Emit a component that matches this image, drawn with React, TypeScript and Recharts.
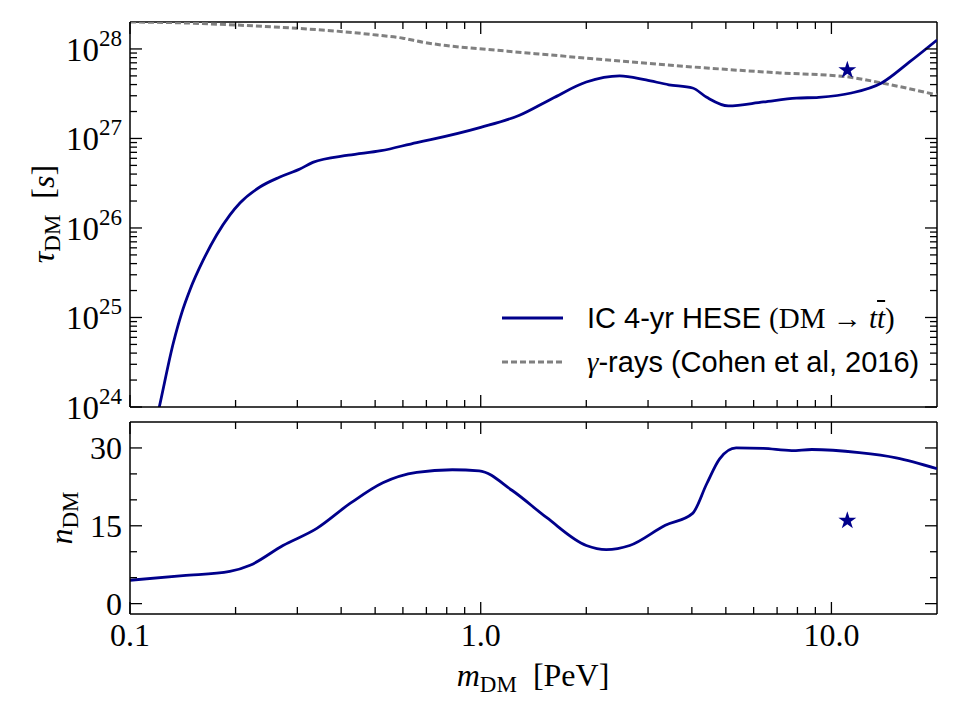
import React from 'react';
import {
  ComposedChart,
  Line,
  Scatter,
  XAxis,
  YAxis,
  ReferenceLine,
  Legend,
  Label,
  Symbols,
} from 'recharts';

// IceCube 4-yr HESE lower limit on the DM lifetime (DM -> t tbar)
const heseMass = [0.115, 0.1212, 0.1329, 0.1404, 0.1482, 0.1618, 0.1766, 0.1928, 0.2058, 0.2346, 0.2676, 0.3051, 0.332, 0.42, 0.52, 0.657, 0.72, 1.0, 1.29, 1.6, 2.0, 2.49, 2.96, 3.44, 4.02, 4.41, 5.08, 6.4, 7.95, 9.2, 11.4, 13.9, 16.7, 20];
const heseTau = [4e23, 1.0e24, 5.19e24, 1.12e25, 2.03e25, 4.39e25, 8.35e25, 1.4e26, 1.9e26, 2.87e26, 3.71e26, 4.56e26, 5.4e26, 6.5e26, 7.3e26, 9.0e26, 9.7e26, 1.33e27, 1.82e27, 2.8e27, 4.27e27, 5.0e27, 4.5e27, 3.98e27, 3.66e27, 2.88e27, 2.31e27, 2.56e27, 2.82e27, 2.88e27, 3.22e27, 4.17e27, 7.16e27, 1.26e28];

// gamma-ray bound (Cohen et al, 2016)
const gammaMass = [0.1, 0.124, 0.2013, 0.2983, 0.405, 0.5043, 0.5998, 0.6836, 0.797, 1.013, 2.0, 4.0, 7.1, 11, 13.9, 20];
const gammaTau = [2.0e28, 1.98e28, 1.85e28, 1.7e28, 1.56e28, 1.43e28, 1.32e28, 1.19e28, 1.09e28, 1.0e28, 7.9e27, 6.3e27, 5.4e27, 4.9e27, 4.17e27, 3.06e27];

// best-fit number of signal events
const nMass = [0.1, 0.1416, 0.1926, 0.22, 0.273, 0.341, 0.424, 0.526, 0.657, 0.83, 0.99, 1.23, 1.54, 2.0, 2.28, 2.66, 3.36, 4.02, 4.41, 4.8, 5.35, 6.4, 7.7, 8.8, 12.0, 15.3, 20];
const nEvents = [4.5, 5.4, 6.2, 7.4, 11.2, 14.5, 19.3, 23.3, 25.3, 25.8, 25.6, 21.8, 16.6, 11.2, 10.4, 11.2, 15.1, 17.4, 23.1, 27.9, 30.0, 29.9, 29.5, 29.7, 29.1, 28.1, 26.0];

// best-fit point
const bestMass = [11.1];
const bestTau = [5.8e27];
const bestN = [16.0];

const xTicks = [0.1, 0.2, 0.3, 0.4, 0.5, 0.6, 0.7, 0.8, 0.9, 1, 2, 3, 4, 5, 6, 7, 8, 9, 10];
const xMajorLabels: Record<string, string> = { '0.1': '0.1', '1': '1.0', '10': '10.0' };
const tauTicks: number[] = [];
for (let e = 24; e <= 28; e++) {
  for (let k = 1; k <= 9; k++) {
    if (e === 28 && k > 1) break;
    tauTicks.push(k * Math.pow(10, e));
  }
}
const nTicks = [0, 5, 10, 15, 20, 25, 30];
const nMajor = [0, 15, 30];

const heseData = heseMass.map((m, i) => ({ m, tau: heseTau[i] }));
const gammaData = gammaMass.map((m, i) => ({ m, tau: gammaTau[i] }));
const nData = nMass.map((m, i) => ({ m, n: nEvents[i] }));
const bestTop = bestMass.map((m, i) => ({ m, tau: bestTau[i] }));
const bestBottom = bestMass.map((m, i) => ({ m, n: bestN[i] }));

const BLUE = '#00008b';
const GREY = '#808080';
const SERIF = '"Liberation Serif", "DejaVu Serif", serif';
const SANS = '"Liberation Sans", Arial, sans-serif';

const W = 960;
const LEFT = 130;
const RIGHT = 937;
const PLOT_W = RIGHT - LEFT;
const TOP_H = 385; // 22 .. 407
const BOT_H = 192; // 422 .. 614

const MAJ = 12;
const MIN = 7;
const TICK_W = 1.3;

const isDecade = (v: number) => Math.abs(Math.log10(v) - Math.round(Math.log10(v))) < 1e-6;

const makeXTick = (plotH: number, labels: boolean) => (props: any) => {
  const { x, y, payload } = props;
  const v = payload.value;
  const major = isDecade(v);
  const len = major ? MAJ : MIN;
  const lbl = xMajorLabels[String(v)];
  return (
    <g>
      <line x1={x} x2={x} y1={y} y2={y - len} stroke="#000" strokeWidth={TICK_W} />
      <line x1={x} x2={x} y1={y - plotH} y2={y - plotH + len} stroke="#000" strokeWidth={TICK_W} />
      {labels && major && lbl ? (
        <text x={x} y={y + 32} textAnchor="middle" fontFamily={SERIF} fontSize={32} fill="#000">
          {lbl}
        </text>
      ) : null}
    </g>
  );
};

const TauTick = (props: any) => {
  const { x, y, payload } = props;
  const v = payload.value;
  const major = isDecade(v);
  const len = major ? MAJ : MIN;
  const exp = Math.round(Math.log10(v));
  return (
    <g>
      <line x1={x} x2={x + len} y1={y} y2={y} stroke="#000" strokeWidth={TICK_W} />
      <line x1={x + PLOT_W} x2={x + PLOT_W - len} y1={y} y2={y} stroke="#000" strokeWidth={TICK_W} />
      {major ? (
        <text x={x - 8} y={y + 12} textAnchor="end" fontFamily={SERIF} fontSize={33} fill="#000">
          <tspan>10</tspan>
          <tspan fontSize={23} dy={-15}>{exp}</tspan>
        </text>
      ) : null}
    </g>
  );
};

const NTick = (props: any) => {
  const { x, y, payload } = props;
  const v = payload.value;
  const major = nMajor.includes(v);
  const len = major ? MAJ : MIN;
  return (
    <g>
      <line x1={x} x2={x + len} y1={y} y2={y} stroke="#000" strokeWidth={TICK_W} />
      <line x1={x + PLOT_W} x2={x + PLOT_W - len} y1={y} y2={y} stroke="#000" strokeWidth={TICK_W} />
      {major ? (
        <text x={x - 8} y={y + 11} textAnchor="end" fontFamily={SERIF} fontSize={32} fill="#000">
          {v}
        </text>
      ) : null}
    </g>
  );
};

const StarShape = (props: any) => (
  <Symbols cx={props.cx} cy={props.cy} type="star" size={100} fill={BLUE} stroke="none" />
);

const LegendBox = () => (
  <div style={{ fontFamily: SANS, fontSize: 29, color: '#000', lineHeight: '44px' }}>
    <div style={{ display: 'flex', alignItems: 'center', height: 44 }}>
      <svg width={90} height={44} style={{ flex: 'none' }}>
        <line x1={5} x2={66} y1={22} y2={22} stroke={BLUE} strokeWidth={3} />
      </svg>
      <span style={{ whiteSpace: 'nowrap' }}>
        IC 4-yr HESE{' '}
        <span style={{ fontFamily: SERIF }}>
          (DM → <i>t</i><i style={{ textDecoration: 'overline' }}>t</i>)
        </span>
      </span>
    </div>
    <div style={{ display: 'flex', alignItems: 'center', height: 44 }}>
      <svg width={90} height={44} style={{ flex: 'none' }}>
        <line x1={5} x2={66} y1={22} y2={22} stroke={GREY} strokeWidth={3} strokeDasharray="6 3" />
      </svg>
      <span style={{ whiteSpace: 'nowrap' }}>
        <i style={{ fontFamily: SERIF }}>γ</i>-rays (Cohen et al, 2016)
      </span>
    </div>
  </div>
);

const TauTitle = () => (
  <text transform="translate(54,214) rotate(-90)" textAnchor="middle" fontFamily={SERIF} fontSize={32} fill="#000">
    <tspan fontStyle="italic">τ</tspan>
    <tspan fontSize={23} dy={6}>DM</tspan>
    <tspan dy={-6}>{'\u2002['}</tspan>
    <tspan fontStyle="italic">s</tspan>
    <tspan>]</tspan>
  </text>
);

const NTitle = () => (
  <text transform="translate(72,118) rotate(-90)" textAnchor="middle" fontFamily={SERIF} fontSize={32} fill="#000">
    <tspan fontStyle="italic">n</tspan>
    <tspan fontSize={23} dy={6}>DM</tspan>
  </text>
);

const MassTitle = () => (
  <text x={533} y={286} textAnchor="middle" fontFamily={SERIF} fontSize={32} fill="#000">
    <tspan fontStyle="italic">m</tspan>
    <tspan fontSize={23} dy={6}>DM</tspan>
    <tspan dy={-6}>{'\u2002[PeV]'}</tspan>
  </text>
);

export default function App() {
  return (
    <div style={{ position: 'absolute', left: 0, top: 0, width: W, height: 720, background: '#fff' }}>
      <div style={{ position: 'absolute', left: 0, top: 0 }}>
        <ComposedChart width={W} height={430} margin={{ top: 22, right: W - RIGHT, bottom: 0, left: 0 }}>
          <XAxis
            dataKey="m"
            type="number"
            scale="log"
            domain={[0.1, 20]}
            allowDataOverflow
            ticks={xTicks}
            interval={0}
            tickSize={0}
            tickMargin={0}
            tickLine={false}
            axisLine={{ stroke: '#000', strokeWidth: 1.5 }}
            height={23}
            tick={makeXTick(TOP_H, false)}
          />
          <YAxis
            type="number"
            scale="log"
            domain={[1e24, 2e28]}
            allowDataOverflow
            ticks={tauTicks}
            interval={0}
            tickSize={0}
            tickMargin={0}
            tickLine={false}
            axisLine={{ stroke: '#000', strokeWidth: 1.5 }}
            width={LEFT}
            tick={TauTick}
          >
            <Label content={() => <TauTitle />} />
          </YAxis>
          <ReferenceLine y={2e28} stroke="#000" strokeWidth={1.5} ifOverflow="extendDomain" />
          <ReferenceLine x={20} stroke="#000" strokeWidth={1.5} ifOverflow="extendDomain" />
          <Line
            data={gammaData}
            dataKey="tau"
            type="monotone"
            stroke={GREY}
            strokeWidth={3}
            strokeDasharray="6 3"
            dot={false}
            isAnimationActive={false}
          />
          <Line
            data={heseData}
            dataKey="tau"
            type="monotone"
            stroke={BLUE}
            strokeWidth={2.8}
            dot={false}
            isAnimationActive={false}
          />
          <Scatter data={bestTop} dataKey="tau" shape={StarShape} isAnimationActive={false} />
          <Legend
            layout="vertical"
            align="center"
            verticalAlign="middle"
            content={() => <LegendBox />}
            wrapperStyle={{ left: 497, top: 296, width: 440, height: 88 }}
          />
        </ComposedChart>
      </div>
      <div style={{ position: 'absolute', left: 0, top: 400 }}>
        <ComposedChart width={W} height={320} margin={{ top: 22, right: W - RIGHT, bottom: 0, left: 0 }}>
          <XAxis
            dataKey="m"
            type="number"
            scale="log"
            domain={[0.1, 20]}
            allowDataOverflow
            ticks={xTicks}
            interval={0}
            tickSize={0}
            tickMargin={0}
            tickLine={false}
            axisLine={{ stroke: '#000', strokeWidth: 1.5 }}
            height={106}
            tick={makeXTick(BOT_H, true)}
          >
            <Label content={() => <MassTitle />} />
          </XAxis>
          <YAxis
            type="number"
            domain={[-2, 35]}
            allowDataOverflow
            ticks={nTicks}
            interval={0}
            tickSize={0}
            tickMargin={0}
            tickLine={false}
            axisLine={{ stroke: '#000', strokeWidth: 1.5 }}
            width={LEFT}
            tick={NTick}
          >
            <Label content={() => <NTitle />} />
          </YAxis>
          <ReferenceLine y={35} stroke="#000" strokeWidth={1.5} ifOverflow="extendDomain" />
          <ReferenceLine x={20} stroke="#000" strokeWidth={1.5} ifOverflow="extendDomain" />
          <Line
            data={nData}
            dataKey="n"
            type="monotone"
            stroke={BLUE}
            strokeWidth={2.8}
            dot={false}
            isAnimationActive={false}
          />
          <Scatter data={bestBottom} dataKey="n" shape={StarShape} isAnimationActive={false} />
        </ComposedChart>
      </div>
    </div>
  );
}
